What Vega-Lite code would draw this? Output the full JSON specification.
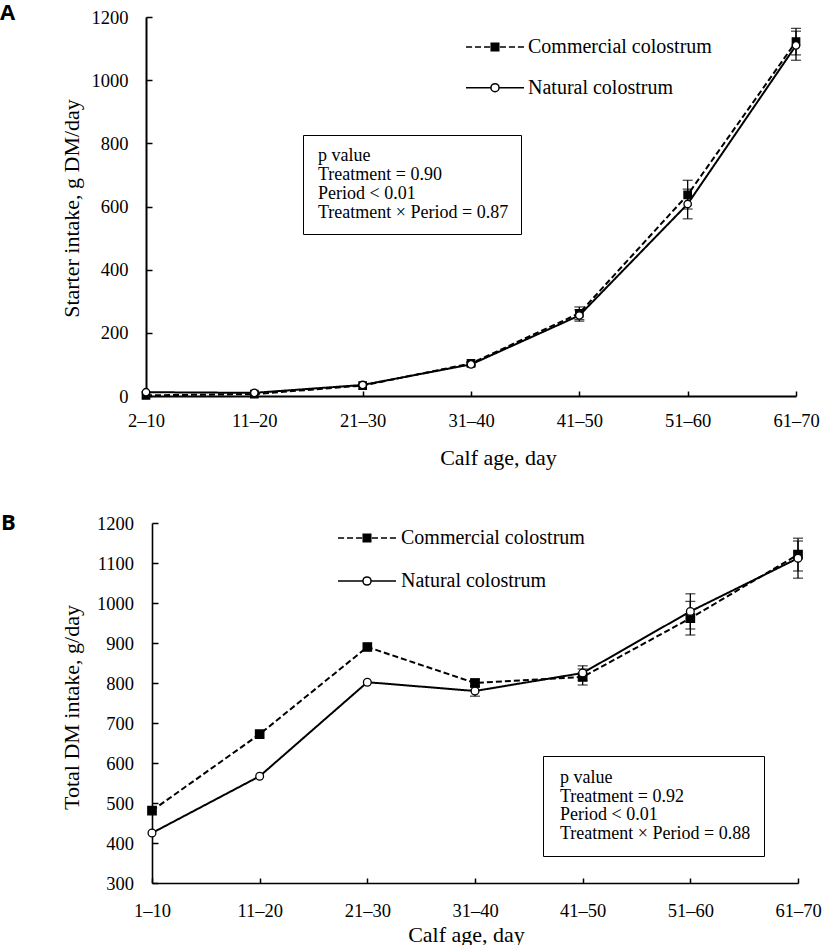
{
  "$schema": "https://vega.github.io/schema/vega-lite/v6.json",
  "background": "white",
  "padding": {"left": 0, "top": 2, "right": 0, "bottom": 0},
  "spacing": 44,
  "config": {
    "font": "Liberation Serif",
    "view": {"stroke": null},
    "axis": {
      "grid": false,
      "domainColor": "black",
      "domainWidth": 2,
      "tickColor": "black",
      "tickWidth": 1.5,
      "labelColor": "black",
      "titleColor": "black",
      "labelFont": "Liberation Serif",
      "titleFont": "Liberation Serif",
      "labelFontSize": 18.5,
      "titleFontSize": 22,
      "titleFontWeight": "normal"
    },
    "legend": {"labelFont": "Liberation Serif", "labelColor": "black", "labelLimit": 0}
  },
  "resolve": {
    "scale": {"fill": "independent", "stroke": "independent", "strokeDash": "independent", "color": "independent"},
    "legend": {"fill": "independent", "stroke": "independent", "strokeDash": "independent", "color": "independent"}
  },
  "datasets": {
    "starter": [
      {"period": "2–10", "series": "Commercial colostrum", "value": 2, "lo": null, "hi": null},
      {"period": "2–10", "series": "Natural colostrum", "value": 12, "lo": null, "hi": null},
      {"period": "11–20", "series": "Commercial colostrum", "value": 6, "lo": null, "hi": null},
      {"period": "11–20", "series": "Natural colostrum", "value": 10, "lo": null, "hi": null},
      {"period": "21–30", "series": "Commercial colostrum", "value": 33, "lo": null, "hi": null},
      {"period": "21–30", "series": "Natural colostrum", "value": 35, "lo": null, "hi": null},
      {"period": "31–40", "series": "Commercial colostrum", "value": 103, "lo": 98, "hi": 108},
      {"period": "31–40", "series": "Natural colostrum", "value": 100, "lo": 95, "hi": 105},
      {"period": "41–50", "series": "Commercial colostrum", "value": 262, "lo": 242, "hi": 282},
      {"period": "41–50", "series": "Natural colostrum", "value": 255, "lo": 237, "hi": 273},
      {"period": "51–60", "series": "Commercial colostrum", "value": 637, "lo": 592, "hi": 683},
      {"period": "51–60", "series": "Natural colostrum", "value": 608, "lo": 561, "hi": 655},
      {"period": "61–70", "series": "Commercial colostrum", "value": 1122, "lo": 1080, "hi": 1164},
      {"period": "61–70", "series": "Natural colostrum", "value": 1110, "lo": 1063, "hi": 1155}
    ],
    "total": [
      {"period": "1–10", "series": "Commercial colostrum", "value": 481, "lo": null, "hi": null},
      {"period": "1–10", "series": "Natural colostrum", "value": 425, "lo": null, "hi": null},
      {"period": "11–20", "series": "Commercial colostrum", "value": 672, "lo": null, "hi": null},
      {"period": "11–20", "series": "Natural colostrum", "value": 567, "lo": null, "hi": null},
      {"period": "21–30", "series": "Commercial colostrum", "value": 890, "lo": null, "hi": null},
      {"period": "21–30", "series": "Natural colostrum", "value": 802, "lo": null, "hi": null},
      {"period": "31–40", "series": "Commercial colostrum", "value": 800, "lo": 790, "hi": 810},
      {"period": "31–40", "series": "Natural colostrum", "value": 780, "lo": 767, "hi": 793},
      {"period": "41–50", "series": "Commercial colostrum", "value": 815, "lo": 795, "hi": 835},
      {"period": "41–50", "series": "Natural colostrum", "value": 825, "lo": 807, "hi": 843},
      {"period": "51–60", "series": "Commercial colostrum", "value": 962, "lo": 920, "hi": 1004},
      {"period": "51–60", "series": "Natural colostrum", "value": 979, "lo": 935, "hi": 1023},
      {"period": "61–70", "series": "Commercial colostrum", "value": 1121, "lo": 1080, "hi": 1162},
      {"period": "61–70", "series": "Natural colostrum", "value": 1112, "lo": 1062, "hi": 1155}
    ],
    "statsA": [
      {"stat": "p value"},
      {"stat": "Treatment = 0.90"},
      {"stat": "Period < 0.01"},
      {"stat": "Treatment × Period = 0.87"}
    ],
    "statsB": [
      {"stat": "p value"},
      {"stat": "Treatment = 0.92"},
      {"stat": "Period < 0.01"},
      {"stat": "Treatment × Period = 0.88"}
    ]
  },
  "vconcat": [
    {
      "title": {"text": "A", "anchor": "start", "frame": "group", "orient": "top", "offset": -34, "dx": -152, "baseline": "alphabetic", "font": "Open Sans", "fontSize": 22, "fontWeight": "bold", "color": "black"},
      "width": 650,
      "height": 379,
      "data": {"name": "starter"},
      "encoding": {
        "x": {
          "field": "period", "type": "ordinal",
          "scale": {"type": "point", "padding": 0, "range": [-6, 644], "domain": ["2–10", "11–20", "21–30", "31–40", "41–50", "51–60", "61–70"]},
          "axis": {"title": "Calf age, day", "labelAngle": 0, "tickSize": -5, "labelPadding": 20.5, "titleX": 346, "titleY": 68, "titleBaseline": "alphabetic", "titleAlign": "center"}
        },
        "y": {
          "field": "value", "type": "quantitative", "title": "Starter intake, g DM/day",
          "scale": {"domain": [0, 1200], "nice": false, "zero": false},
          "axis": {"title": "Starter intake, g DM/day", "format": "d", "values": [0, 200, 400, 600, 800, 1000, 1200], "tickSize": -6, "labelPadding": 24, "offset": 6, "titleX": -67.5, "titleY": 191, "titleBaseline": "alphabetic", "titleAlign": "center", "titleAngle": -90}
        }
      },
      "layer": [
        {
          "mark": {"type": "line", "color": "black", "strokeWidth": 2},
          "encoding": {
            "strokeDash": {"field": "series", "type": "nominal", "scale": {"domain": ["Commercial colostrum", "Natural colostrum"], "range": [[6, 3], [1, 0]]}, "legend": null}
          }
        },
        {
          "mark": {"type": "rule", "color": "black", "strokeWidth": 1.3},
          "encoding": {"y": {"field": "lo", "type": "quantitative", "title": "Starter intake, g DM/day"}, "y2": {"field": "hi"}}
        },
        {
          "mark": {"type": "tick", "color": "black", "size": 10, "thickness": 1.3, "orient": "horizontal"},
          "encoding": {"y": {"field": "lo", "type": "quantitative", "title": "Starter intake, g DM/day"}}
        },
        {
          "mark": {"type": "tick", "color": "black", "size": 10, "thickness": 1.3, "orient": "horizontal"},
          "encoding": {"y": {"field": "hi", "type": "quantitative", "title": "Starter intake, g DM/day"}}
        },
        {
          "transform": [{"filter": {"field": "series", "equal": "Commercial colostrum"}}],
          "mark": {"type": "point", "shape": "square", "filled": true, "fill": "black", "stroke": "black", "strokeWidth": 1.3, "opacity": 1, "size": 55}
        },
        {
          "transform": [{"filter": {"field": "series", "equal": "Natural colostrum"}}],
          "mark": {"type": "point", "shape": "circle", "filled": true, "fill": "white", "stroke": "black", "strokeWidth": 1.3, "opacity": 1, "size": 55}
        },
        {
          "transform": [{"filter": {"field": "series", "equal": "none"}}],
          "mark": {"type": "point", "filled": true, "stroke": "black", "strokeWidth": 1.5, "opacity": 1},
          "encoding": {
            "fill": {
              "field": "series", "type": "nominal",
              "scale": {"domain": ["Commercial colostrum"], "range": ["black"]},
              "legend": {
                "title": null, "orient": "none", "legendX": 313, "legendY": 20, "padding": 0,
                "symbolType": "M-1,0H-0.79M-0.69,0H-0.48M-0.38,0H-0.17M0.17,0H0.38M0.48,0H0.69M0.79,0H1M-0.13,-0.13H0.13V0.13H-0.13Z",
                "symbolSize": 3364, "clipHeight": 20, "labelOffset": 3, "labelFontSize": 20,
                "symbolStrokeWidth": 1.5, "symbolStrokeColor": "black", "symbolOpacity": 1
              }
            }
          }
        },
        {
          "transform": [{"filter": {"field": "series", "equal": "none"}}],
          "mark": {"type": "point", "filled": true, "fill": "white", "strokeWidth": 1.5, "opacity": 1},
          "encoding": {
            "stroke": {
              "field": "series", "type": "nominal",
              "scale": {"domain": ["Natural colostrum"], "range": ["black"]},
              "legend": {
                "title": null, "orient": "none", "legendX": 313, "legendY": 60.7, "padding": 0,
                "symbolType": "M-1,0H-0.14M0.14,0H1M0.14,0A0.14,0.14,0,1,1,-0.14,0A0.14,0.14,0,1,1,0.14,0Z",
                "symbolSize": 3364, "clipHeight": 20, "labelOffset": 3, "labelFontSize": 20,
                "symbolStrokeWidth": 1.5, "symbolFillColor": "white", "symbolOpacity": 1
              }
            }
          }
        },
        {
          "data": {"name": "statsA"},
          "mark": {"type": "point", "opacity": 0},
          "encoding": {
            "x": {"value": 0},
            "y": {"value": 0},
            "color": {
              "field": "stat", "type": "nominal",
              "scale": {"domain": ["p value", "Treatment = 0.90", "Period < 0.01", "Treatment × Period = 0.87"], "range": ["black", "black", "black", "black"]},
              "legend": {"title": null, "orient": "none", "legendX": 151, "legendY": 118, "strokeColor": "black", "fillColor": "white", "padding": 12, "symbolSize": 0, "symbolOpacity": 0, "symbolStrokeWidth": 0, "labelOffset": -15, "labelFontSize": 18, "rowPadding": 1}
            }
          }
        }
      ]
    },
    {
      "title": {"text": "B", "anchor": "start", "frame": "group", "orient": "top", "offset": -38, "dx": -151, "baseline": "alphabetic", "font": "Open Sans", "fontSize": 22, "fontWeight": "bold", "color": "black"},
      "width": 646,
      "height": 360,
      "data": {"name": "total"},
      "encoding": {
        "x": {
          "field": "period", "type": "ordinal",
          "scale": {"type": "point", "padding": 0, "domain": ["1–10", "11–20", "21–30", "31–40", "41–50", "51–60", "61–70"]},
          "axis": {"title": "Calf age, day", "labelAngle": 0, "tickSize": -5, "labelPadding": 23.5, "titleX": 314, "titleY": 58, "titleBaseline": "alphabetic", "titleAlign": "center", "domainWidth": 1.6}
        },
        "y": {
          "field": "value", "type": "quantitative", "title": "Total DM intake, g/day",
          "scale": {"domain": [300, 1200], "nice": false, "zero": false},
          "axis": {"title": "Total DM intake, g/day", "format": "d", "values": [300, 400, 500, 600, 700, 800, 900, 1000, 1100, 1200], "tickSize": -6, "labelPadding": 24.5, "titleX": -73.5, "titleY": 184, "titleBaseline": "alphabetic", "titleAlign": "center", "titleAngle": -90, "domainWidth": 1.6}
        }
      },
      "layer": [
        {
          "mark": {"type": "line", "color": "black", "strokeWidth": 2},
          "encoding": {
            "strokeDash": {"field": "series", "type": "nominal", "scale": {"domain": ["Commercial colostrum", "Natural colostrum"], "range": [[6, 3], [1, 0]]}, "legend": null}
          }
        },
        {
          "mark": {"type": "rule", "color": "black", "strokeWidth": 1.3},
          "encoding": {"y": {"field": "lo", "type": "quantitative", "title": "Total DM intake, g/day"}, "y2": {"field": "hi"}}
        },
        {
          "mark": {"type": "tick", "color": "black", "size": 10, "thickness": 1.3, "orient": "horizontal"},
          "encoding": {"y": {"field": "lo", "type": "quantitative", "title": "Total DM intake, g/day"}}
        },
        {
          "mark": {"type": "tick", "color": "black", "size": 10, "thickness": 1.3, "orient": "horizontal"},
          "encoding": {"y": {"field": "hi", "type": "quantitative", "title": "Total DM intake, g/day"}}
        },
        {
          "transform": [{"filter": {"field": "series", "equal": "Commercial colostrum"}}],
          "mark": {"type": "point", "shape": "square", "filled": true, "fill": "black", "stroke": "black", "strokeWidth": 1.3, "opacity": 1, "size": 70}
        },
        {
          "transform": [{"filter": {"field": "series", "equal": "Natural colostrum"}}],
          "mark": {"type": "point", "shape": "circle", "filled": true, "fill": "white", "stroke": "black", "strokeWidth": 1.3, "opacity": 1, "size": 60}
        },
        {
          "transform": [{"filter": {"field": "series", "equal": "none"}}],
          "mark": {"type": "point", "filled": true, "stroke": "black", "strokeWidth": 1.5, "opacity": 1},
          "encoding": {
            "fill": {
              "field": "series", "type": "nominal",
              "scale": {"domain": ["Commercial colostrum"], "range": ["black"]},
              "legend": {
                "title": null, "orient": "none", "legendX": 185, "legendY": 5, "padding": 0,
                "symbolType": "M-1,0H-0.79M-0.69,0H-0.48M-0.38,0H-0.17M0.17,0H0.38M0.48,0H0.69M0.79,0H1M-0.13,-0.13H0.13V0.13H-0.13Z",
                "symbolSize": 3364, "clipHeight": 20, "labelOffset": 4, "labelFontSize": 20,
                "symbolStrokeWidth": 1.5, "symbolStrokeColor": "black", "symbolOpacity": 1
              }
            }
          }
        },
        {
          "transform": [{"filter": {"field": "series", "equal": "none"}}],
          "mark": {"type": "point", "filled": true, "fill": "white", "strokeWidth": 1.5, "opacity": 1},
          "encoding": {
            "stroke": {
              "field": "series", "type": "nominal",
              "scale": {"domain": ["Natural colostrum"], "range": ["black"]},
              "legend": {
                "title": null, "orient": "none", "legendX": 185, "legendY": 48, "padding": 0,
                "symbolType": "M-1,0H-0.14M0.14,0H1M0.14,0A0.14,0.14,0,1,1,-0.14,0A0.14,0.14,0,1,1,0.14,0Z",
                "symbolSize": 3364, "clipHeight": 20, "labelOffset": 4, "labelFontSize": 20,
                "symbolStrokeWidth": 1.5, "symbolFillColor": "white", "symbolOpacity": 1
              }
            }
          }
        },
        {
          "data": {"name": "statsB"},
          "mark": {"type": "point", "opacity": 0},
          "encoding": {
            "x": {"value": 0},
            "y": {"value": 0},
            "color": {
              "field": "stat", "type": "nominal",
              "scale": {"domain": ["p value", "Treatment = 0.92", "Period < 0.01", "Treatment × Period = 0.88"], "range": ["black", "black", "black", "black"]},
              "legend": {"title": null, "orient": "none", "legendX": 391, "legendY": 233, "strokeColor": "black", "fillColor": "white", "padding": 13, "symbolSize": 0, "symbolOpacity": 0, "symbolStrokeWidth": 0, "labelOffset": -14, "labelFontSize": 18, "rowPadding": 0.5}
            }
          }
        }
      ]
    }
  ]
}
